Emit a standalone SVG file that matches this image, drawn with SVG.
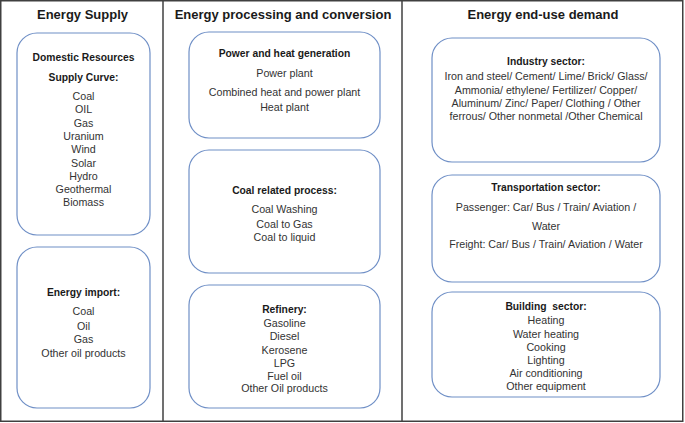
<svg xmlns="http://www.w3.org/2000/svg" width="685" height="423" viewBox="0 0 685 423">
<style>
.frame{fill:none;stroke:#404040;stroke-width:1.5}
.box{fill:#ffffff;stroke:#6f8fc6;stroke-width:1.2}
text{font-family:"Liberation Sans",Arial,sans-serif;text-anchor:middle}
.title{font-size:13px;font-weight:bold;fill:#1a1a1a}
.head{font-size:10.3px;font-weight:bold;fill:#1a1a1a}
.item{font-size:10.7px;fill:#333333}
</style>
<rect x="0" y="0" width="685" height="423" fill="#ffffff"/>
<g id="frame">
<rect class="frame" x="0.75" y="0.75" width="682" height="420.5"/>
<line class="frame" x1="163" y1="0.75" x2="163" y2="421.25"/>
<line class="frame" x1="402" y1="0.75" x2="402" y2="421.25"/>
<text class="title" x="82.5" y="19">Energy Supply</text>
<text class="title" x="283" y="19">Energy processing and conversion</text>
<text class="title" x="543" y="19">Energy end-use demand</text>
</g>
<g id="domestic">
<rect class="box" x="17" y="33" width="133" height="202" rx="20"/>
<text class="head" x="83.5" y="61">Domestic Resources</text>
<text class="head" x="83.5" y="81">Supply Curve:</text>
<text class="item" x="83.5" y="100">Coal</text>
<text class="item" x="83.5" y="113.3">OIL</text>
<text class="item" x="83.5" y="126.6">Gas</text>
<text class="item" x="83.5" y="139.9">Uranium</text>
<text class="item" x="83.5" y="153.2">Wind</text>
<text class="item" x="83.5" y="166.5">Solar</text>
<text class="item" x="83.5" y="179.8">Hydro</text>
<text class="item" x="83.5" y="193.1">Geothermal</text>
<text class="item" x="83.5" y="206.4">Biomass</text>
</g>
<g id="import">
<rect class="box" x="17" y="247" width="133" height="161" rx="20"/>
<text class="head" x="83.5" y="296">Energy import:</text>
<text class="item" x="83.5" y="315">Coal</text>
<text class="item" x="83.5" y="330">Oil</text>
<text class="item" x="83.5" y="343">Gas</text>
<text class="item" x="83.5" y="356.5">Other oil products</text>
</g>
<g id="power">
<rect class="box" x="189" y="32" width="191" height="106" rx="20"/>
<text class="head" x="284.5" y="57">Power and heat generation</text>
<text class="item" x="284.5" y="77">Power plant</text>
<text class="item" x="284.5" y="96">Combined heat and power plant</text>
<text class="item" x="284.5" y="111">Heat plant</text>
</g>
<g id="coal">
<rect class="box" x="189" y="150" width="191" height="123" rx="20"/>
<text class="head" x="284.5" y="194">Coal related process:</text>
<text class="item" x="284.5" y="213">Coal Washing</text>
<text class="item" x="284.5" y="228">Coal to Gas</text>
<text class="item" x="284.5" y="241">Coal to liquid</text>
</g>
<g id="refinery">
<rect class="box" x="189" y="285" width="191" height="123" rx="20"/>
<text class="head" x="284.5" y="313">Refinery:</text>
<text class="item" x="284.5" y="327">Gasoline</text>
<text class="item" x="284.5" y="340">Diesel</text>
<text class="item" x="284.5" y="353.5">Kerosene</text>
<text class="item" x="284.5" y="366.5">LPG</text>
<text class="item" x="284.5" y="379.5">Fuel oil</text>
<text class="item" x="284.5" y="392">Other Oil products</text>
</g>
<g id="industry">
<rect class="box" x="432" y="38" width="228" height="124" rx="20"/>
<text class="head" x="546" y="65">Industry sector:</text>
<text class="item" x="546" y="80">Iron and steel/ Cement/ Lime/ Brick/ Glass/</text>
<text class="item" x="546" y="93.5">Ammonia/ ethylene/ Fertilizer/ Copper/</text>
<text class="item" x="546" y="106.5">Aluminum/ Zinc/ Paper/ Clothing / Other</text>
<text class="item" x="546" y="119.5">ferrous/ Other nonmetal /Other Chemical</text>
</g>
<g id="transport">
<rect class="box" x="432" y="175" width="228" height="107" rx="20"/>
<text class="head" x="546" y="191">Transportation sector:</text>
<text class="item" x="546" y="211">Passenger: Car/ Bus / Train/ Aviation /</text>
<text class="item" x="546" y="229.5">Water</text>
<text class="item" x="546" y="248">Freight: Car/ Bus / Train/ Aviation / Water</text>
</g>
<g id="building">
<rect class="box" x="432" y="292" width="228" height="105" rx="20"/>
<text class="head" x="546" y="310" xml:space="preserve">Building  sector:</text>
<text class="item" x="546" y="324">Heating</text>
<text class="item" x="546" y="337.5">Water heating</text>
<text class="item" x="546" y="350.5">Cooking</text>
<text class="item" x="546" y="364">Lighting</text>
<text class="item" x="546" y="377">Air conditioning</text>
<text class="item" x="546" y="389.5">Other equipment</text>
</g>
<g id="connectors"></g>
</svg>
